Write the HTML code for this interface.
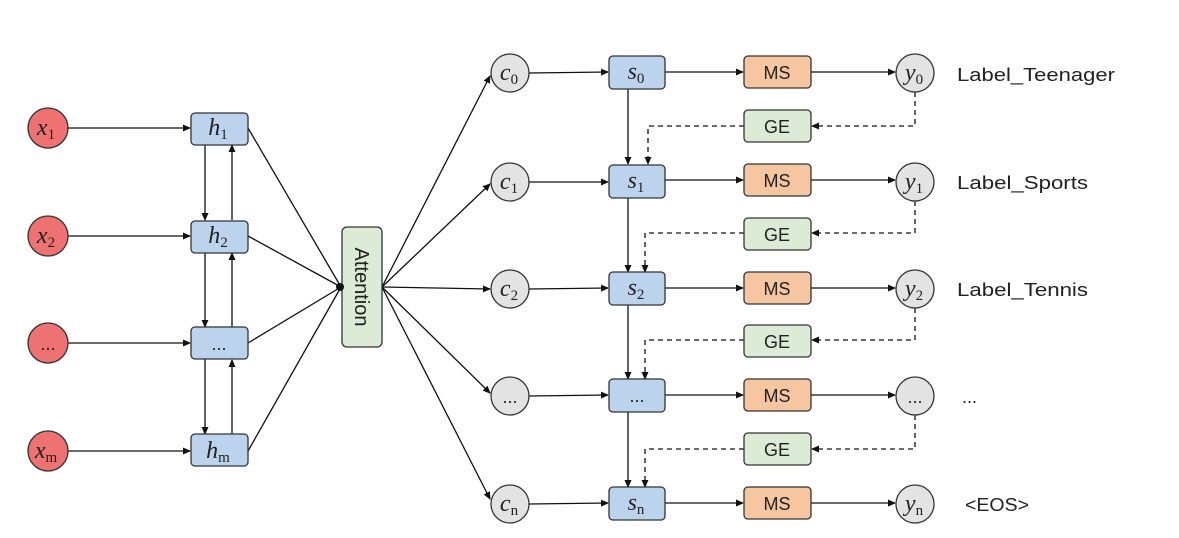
<!DOCTYPE html>
<html><head><meta charset="utf-8"><style>
html,body{margin:0;padding:0;background:#fff;}
svg{display:block;}
.m{font-family:"Liberation Serif",serif;font-style:italic;font-size:24px;fill:#222;}
.sub{font-size:15px;font-style:normal;}
.t{font-family:"Liberation Sans",sans-serif;font-size:18px;fill:#222;}
</style></head><body>
<svg width="1179" height="538" viewBox="0 0 1179 538" xmlns="http://www.w3.org/2000/svg">
<defs><marker id="a" markerWidth="8" markerHeight="8" refX="7" refY="4" orient="auto" markerUnits="userSpaceOnUse"><path d="M0,0.5 L8,4 L0,7.5z" fill="#111"/></marker></defs>
<g stroke="#111" stroke-width="1.3" fill="none">
<line x1="68" y1="128" x2="190" y2="128" marker-end="url(#a)"/>
<line x1="68" y1="236" x2="190" y2="236" marker-end="url(#a)"/>
<line x1="68" y1="343" x2="190" y2="343" marker-end="url(#a)"/>
<line x1="68" y1="451" x2="190" y2="451" marker-end="url(#a)"/>
<line x1="205" y1="144" x2="205" y2="220" marker-end="url(#a)"/>
<line x1="232" y1="220" x2="232" y2="145" marker-end="url(#a)"/>
<line x1="205" y1="252" x2="205" y2="327" marker-end="url(#a)"/>
<line x1="232" y1="327" x2="232" y2="253" marker-end="url(#a)"/>
<line x1="205" y1="359" x2="205" y2="434" marker-end="url(#a)"/>
<line x1="232" y1="434" x2="232" y2="360" marker-end="url(#a)"/>
<line x1="248" y1="128" x2="341" y2="287"/>
<line x1="248" y1="236" x2="341" y2="287"/>
<line x1="248" y1="343" x2="341" y2="287"/>
<line x1="248" y1="451" x2="341" y2="287"/>
<line x1="382" y1="287" x2="490" y2="76" marker-end="url(#a)"/>
<line x1="382" y1="287" x2="490" y2="184" marker-end="url(#a)"/>
<line x1="382" y1="287" x2="490" y2="289" marker-end="url(#a)"/>
<line x1="382" y1="287" x2="490" y2="393" marker-end="url(#a)"/>
<line x1="382" y1="287" x2="490" y2="499" marker-end="url(#a)"/>
<line x1="529" y1="73" x2="608" y2="72" marker-end="url(#a)"/>
<line x1="665" y1="72" x2="743" y2="72" marker-end="url(#a)"/>
<line x1="811" y1="72" x2="895" y2="72" marker-end="url(#a)"/>
<line x1="529" y1="182" x2="608" y2="182" marker-end="url(#a)"/>
<line x1="665" y1="180" x2="743" y2="180" marker-end="url(#a)"/>
<line x1="811" y1="180" x2="895" y2="180" marker-end="url(#a)"/>
<line x1="529" y1="289" x2="608" y2="288" marker-end="url(#a)"/>
<line x1="665" y1="288" x2="743" y2="288" marker-end="url(#a)"/>
<line x1="811" y1="288" x2="895" y2="288" marker-end="url(#a)"/>
<line x1="529" y1="396" x2="608" y2="395" marker-end="url(#a)"/>
<line x1="665" y1="395" x2="743" y2="395" marker-end="url(#a)"/>
<line x1="811" y1="395" x2="895" y2="395" marker-end="url(#a)"/>
<line x1="529" y1="504" x2="608" y2="503" marker-end="url(#a)"/>
<line x1="665" y1="503" x2="743" y2="503" marker-end="url(#a)"/>
<line x1="811" y1="503" x2="895" y2="503" marker-end="url(#a)"/>
<line x1="628" y1="89" x2="628" y2="164" marker-end="url(#a)"/>
<line x1="628" y1="198" x2="628" y2="272" marker-end="url(#a)"/>
<line x1="628" y1="305" x2="628" y2="379" marker-end="url(#a)"/>
<line x1="628" y1="412" x2="628" y2="487" marker-end="url(#a)"/>
</g>
<g stroke="#111" stroke-width="1.3" fill="none" stroke-dasharray="5,4">
<polyline points="915,92 915,126 812,126" marker-end="url(#a)"/>
<polyline points="744,126 648,126 648,164" marker-end="url(#a)"/>
<polyline points="915,201 915,233 812,233" marker-end="url(#a)"/>
<polyline points="744,233 645,233 645,272" marker-end="url(#a)"/>
<polyline points="915,308 915,340 812,340" marker-end="url(#a)"/>
<polyline points="744,340 645,340 645,379" marker-end="url(#a)"/>
<polyline points="915,415 915,449 812,449" marker-end="url(#a)"/>
<polyline points="744,449 645,449 645,487" marker-end="url(#a)"/>
</g>
<g stroke="#333" stroke-width="1.3">
<circle cx="48" cy="128" r="20" fill="#ee7272"/>
<circle cx="48" cy="236" r="20" fill="#ee7272"/>
<circle cx="48" cy="343" r="20" fill="#ee7272"/>
<circle cx="48" cy="451" r="20" fill="#ee7272"/>
<rect x="191" y="113" width="57" height="32" rx="4" fill="#bcd3ee"/>
<rect x="191" y="221" width="57" height="32" rx="4" fill="#bcd3ee"/>
<rect x="191" y="327" width="57" height="32" rx="4" fill="#bcd3ee"/>
<rect x="191" y="434" width="57" height="32" rx="4" fill="#bcd3ee"/>
<rect x="342" y="227" width="40" height="120" rx="5" fill="#dcebd5"/>
<circle cx="510" cy="73" r="19" fill="#e3e3e3"/>
<circle cx="510" cy="182" r="19" fill="#e3e3e3"/>
<circle cx="510" cy="289" r="19" fill="#e3e3e3"/>
<circle cx="510" cy="396" r="19" fill="#e3e3e3"/>
<circle cx="510" cy="504" r="19" fill="#e3e3e3"/>
<rect x="609" y="56" width="56" height="33" rx="4" fill="#bcd3ee"/>
<rect x="609" y="165" width="56" height="33" rx="4" fill="#bcd3ee"/>
<rect x="609" y="272" width="56" height="33" rx="4" fill="#bcd3ee"/>
<rect x="609" y="379" width="56" height="33" rx="4" fill="#bcd3ee"/>
<rect x="609" y="487" width="56" height="33" rx="4" fill="#bcd3ee"/>
<rect x="744" y="56" width="67" height="32" rx="4" fill="#f5c6a0"/>
<rect x="744" y="164" width="67" height="32" rx="4" fill="#f5c6a0"/>
<rect x="744" y="272" width="67" height="32" rx="4" fill="#f5c6a0"/>
<rect x="744" y="379" width="67" height="32" rx="4" fill="#f5c6a0"/>
<rect x="744" y="487" width="67" height="32" rx="4" fill="#f5c6a0"/>
<rect x="744" y="110" width="67" height="32" rx="4" fill="#dcebd5"/>
<rect x="744" y="218" width="67" height="32" rx="4" fill="#dcebd5"/>
<rect x="744" y="325" width="67" height="32" rx="4" fill="#dcebd5"/>
<rect x="744" y="433" width="67" height="32" rx="4" fill="#dcebd5"/>
<circle cx="915" cy="73" r="19" fill="#e3e3e3"/>
<circle cx="915" cy="182" r="19" fill="#e3e3e3"/>
<circle cx="915" cy="289" r="19" fill="#e3e3e3"/>
<circle cx="915" cy="396" r="19" fill="#e3e3e3"/>
<circle cx="915" cy="504" r="19" fill="#e3e3e3"/>
</g>
<circle cx="340" cy="287" r="4" fill="#111"/>
<g class="m" text-anchor="middle">
<text x="46" y="135">x<tspan class="sub" dy="4">1</tspan></text>
<text x="46" y="243">x<tspan class="sub" dy="4">2</tspan></text>
<text x="46" y="458">x<tspan class="sub" dy="4">m</tspan></text>
<text x="218" y="135">h<tspan class="sub" dy="4">1</tspan></text>
<text x="218" y="243">h<tspan class="sub" dy="4">2</tspan></text>
<text x="218" y="458">h<tspan class="sub" dy="4">m</tspan></text>
<text x="509" y="80">c<tspan class="sub" dy="4">0</tspan></text>
<text x="509" y="189">c<tspan class="sub" dy="4">1</tspan></text>
<text x="509" y="296">c<tspan class="sub" dy="4">2</tspan></text>
<text x="509" y="511">c<tspan class="sub" dy="4">n</tspan></text>
<text x="636" y="79">s<tspan class="sub" dy="4">0</tspan></text>
<text x="636" y="188">s<tspan class="sub" dy="4">1</tspan></text>
<text x="636" y="295">s<tspan class="sub" dy="4">2</tspan></text>
<text x="636" y="510">s<tspan class="sub" dy="4">n</tspan></text>
<text x="914" y="80">y<tspan class="sub" dy="4">0</tspan></text>
<text x="914" y="189">y<tspan class="sub" dy="4">1</tspan></text>
<text x="914" y="296">y<tspan class="sub" dy="4">2</tspan></text>
<text x="914" y="511">y<tspan class="sub" dy="4">n</tspan></text>
</g>
<g class="t" text-anchor="middle">
<text x="48" y="350">...</text>
<text x="219" y="350">...</text>
<text x="510" y="403">...</text>
<text x="637" y="402">...</text>
<text x="915" y="403">...</text>
<text x="777" y="79">MS</text><text x="777" y="187">MS</text><text x="777" y="295">MS</text><text x="777" y="402">MS</text><text x="777" y="510">MS</text>
<text x="777" y="133">GE</text><text x="777" y="241">GE</text><text x="777" y="348">GE</text><text x="777" y="456">GE</text>
<text x="0" y="0" transform="translate(355,287) rotate(90)" font-size="20">Attention</text>
</g>
<g class="t" font-size="19">
<text x="957" y="81" textLength="158" lengthAdjust="spacingAndGlyphs">Label_Teenager</text>
<text x="957" y="189" textLength="131" lengthAdjust="spacingAndGlyphs">Label_Sports</text>
<text x="957" y="296" textLength="131" lengthAdjust="spacingAndGlyphs">Label_Tennis</text>
<text x="962" y="403">...</text>
<text x="965" y="511" textLength="64" lengthAdjust="spacingAndGlyphs">&lt;EOS&gt;</text>
</g>
</svg>
</body></html>
